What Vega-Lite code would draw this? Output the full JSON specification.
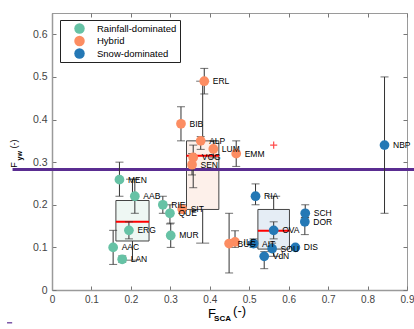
{
  "$schema": "https://vega.github.io/schema/vega-lite/v6.json",
  "width": 355,
  "height": 277,
  "autosize": {"type": "none"},
  "padding": {"left": 52, "top": 13, "right": 7, "bottom": 39},
  "config": {
    "font": "Liberation Sans",
    "view": {"stroke": "#9a9a9a", "strokeWidth": 1},
    "axis": {"grid": false}
  },
  "datasets": {
    "pts": [
      {"id": "MEN", "group": "Rainfall-dominated", "fsca": 0.171, "fyw": 0.259, "lo": 0.22, "hi": 0.30},
      {"id": "AAB", "group": "Rainfall-dominated", "fsca": 0.21, "fyw": 0.22, "lo": 0.18, "hi": 0.26},
      {"id": "ERG", "group": "Rainfall-dominated", "fsca": 0.195, "fyw": 0.14, "lo": 0.12, "hi": 0.16},
      {"id": "AAC", "group": "Rainfall-dominated", "fsca": 0.155, "fyw": 0.10, "lo": 0.06, "hi": 0.14},
      {"id": "LAN", "group": "Rainfall-dominated", "fsca": 0.178, "fyw": 0.072, "lo": 0.065, "hi": 0.08},
      {"id": "RIE", "group": "Rainfall-dominated", "fsca": 0.281, "fyw": 0.20, "lo": 0.18, "hi": 0.22},
      {"id": "QUE", "group": "Rainfall-dominated", "fsca": 0.299, "fyw": 0.18, "lo": 0.155, "hi": 0.20},
      {"id": "MUR", "group": "Rainfall-dominated", "fsca": 0.301, "fyw": 0.128, "lo": 0.10, "hi": 0.157},
      {"id": "ERL", "group": "Hybrid", "fsca": 0.386, "fyw": 0.49, "lo": 0.46, "hi": 0.52},
      {"id": "BIB", "group": "Hybrid", "fsca": 0.327, "fyw": 0.39, "lo": 0.35, "hi": 0.43},
      {"id": "ALP", "group": "Hybrid", "fsca": 0.377, "fyw": 0.35, "lo": 0.33, "hi": 0.36},
      {"id": "LUM", "group": "Hybrid", "fsca": 0.409, "fyw": 0.331, "lo": 0.31, "hi": 0.35},
      {"id": "VOG", "group": "Hybrid", "fsca": 0.358, "fyw": 0.311, "lo": 0.24, "hi": 0.34},
      {"id": "SEN", "group": "Hybrid", "fsca": 0.355, "fyw": 0.294, "lo": 0.27, "hi": 0.32},
      {"id": "EMM", "group": "Hybrid", "fsca": 0.467, "fyw": 0.32, "lo": 0.29, "hi": 0.35},
      {"id": "SIT", "group": "Hybrid", "fsca": 0.33, "fyw": 0.19, "lo": 0.18, "hi": 0.20},
      {"id": "ILE", "group": "Hybrid", "fsca": 0.464, "fyw": 0.113, "lo": 0.10, "hi": 0.139},
      {"id": "BUC", "group": "Hybrid", "fsca": 0.449, "fyw": 0.109, "lo": 0.04, "hi": 0.18},
      {"id": "NBP", "group": "Snow-dominated", "fsca": 0.843, "fyw": 0.34, "lo": 0.18, "hi": 0.50},
      {"id": "RIA", "group": "Snow-dominated", "fsca": 0.516, "fyw": 0.22, "lo": 0.20, "hi": 0.249},
      {"id": "SCH", "group": "Snow-dominated", "fsca": 0.642, "fyw": 0.18, "lo": 0.17, "hi": 0.20},
      {"id": "DOR", "group": "Snow-dominated", "fsca": 0.641, "fyw": 0.16, "lo": 0.13, "hi": 0.17},
      {"id": "OVA", "group": "Snow-dominated", "fsca": 0.562, "fyw": 0.14, "lo": 0.12, "hi": 0.16},
      {"id": "DIS", "group": "Snow-dominated", "fsca": 0.617, "fyw": 0.10, "lo": 0.10, "hi": 0.10},
      {"id": "SOU", "group": "Snow-dominated", "fsca": 0.558, "fyw": 0.097, "lo": 0.09, "hi": 0.11},
      {"id": "AIT", "group": "Snow-dominated", "fsca": 0.511, "fyw": 0.109, "lo": 0.10, "hi": 0.12},
      {"id": "VdN", "group": "Snow-dominated", "fsca": 0.538, "fyw": 0.079, "lo": 0.05, "hi": 0.09}
    ],
    "boxes": [
      {"group": "Rainfall-dominated", "x1": 0.162, "x2": 0.246, "q1": 0.115, "q3": 0.21, "med": 0.16, "xc": 0.204, "wlo": 0.07, "whi": 0.26},
      {"group": "Hybrid", "x1": 0.341, "x2": 0.423, "q1": 0.189, "q3": 0.35, "med": 0.315, "xc": 0.382, "wlo": 0.11, "whi": 0.49},
      {"group": "Snow-dominated", "x1": 0.522, "x2": 0.602, "q1": 0.096, "q3": 0.189, "med": 0.139, "xc": 0.562, "wlo": 0.079, "whi": 0.22}
    ],
    "outliers": [
      {"group": "Snow-dominated", "xc": 0.562, "out": 0.34}
    ],
    "threshold": [
      {"x": -0.1, "x2": 0.93, "y": 0.283}
    ],
    "dash": [
      {"x": -0.114, "x2": -0.101, "y": -0.077}
    ],
    "titles": [
      {"axis": "x", "part": "big", "t": "F", "x": 0.3955, "y": -0.0654},
      {"axis": "x", "part": "sub", "t": "SCA", "x": 0.411, "y": -0.0724},
      {"axis": "x", "part": "big", "t": "(-)", "x": 0.459, "y": -0.059},
      {"axis": "y", "part": "big", "t": "F", "x": -0.0887, "y": 0.287},
      {"axis": "y", "part": "sub", "t": "yw", "x": -0.076, "y": 0.304},
      {"axis": "y", "part": "big", "t": "(-)", "x": -0.0887, "y": 0.332}
    ]
  },
  "resolve": {"axis": {"x": "independent", "y": "independent"}},
  "layer": [
    {
      "data": {"name": "boxes"},
      "mark": {"type": "rule", "color": "#333333", "strokeWidth": 1},
      "encoding": {
        "x": {"field": "xc", "type": "quantitative", "scale": {"domain": [0, 0.9], "nice": false, "zero": false}, "axis": null},
        "y": {"field": "wlo", "type": "quantitative", "scale": {"domain": [0, 0.65], "nice": false, "zero": false}, "axis": null},
        "y2": {"field": "whi"}
      }
    },
    {
      "data": {"name": "boxes"},
      "transform": [{"fold": ["wlo", "whi"], "as": ["end", "wv"]}],
      "mark": {"type": "tick", "orient": "horizontal", "color": "#333333", "size": 13, "thickness": 1},
      "encoding": {
        "x": {"field": "xc", "type": "quantitative", "axis": null},
        "y": {"field": "wv", "type": "quantitative", "axis": null}
      }
    },
    {
      "data": {"name": "boxes"},
      "mark": {"type": "rect", "stroke": "#444444", "strokeWidth": 1, "opacity": 1},
      "encoding": {
        "x": {
          "field": "x1", "type": "quantitative",
          "axis": {"orient": "bottom", "values": [0, 0.1, 0.2, 0.3, 0.4, 0.5, 0.6, 0.7, 0.8, 0.9], "format": "~g", "title": null, "domainColor": "#9a9a9a", "domainWidth": 1.5, "tickColor": "#777777", "tickSize": -4, "labelPadding": 8, "labelFontSize": 10, "labelColor": "#444444", "labelFlush": false}
        },
        "x2": {"field": "x2"},
        "y": {
          "field": "q1", "type": "quantitative",
          "axis": {"orient": "left", "values": [0, 0.1, 0.2, 0.3, 0.4, 0.5, 0.6], "format": "~g", "title": null, "domainColor": "#9a9a9a", "domainWidth": 1.5, "tickColor": "#777777", "tickSize": -4, "labelPadding": 9, "labelFontSize": 10.5, "labelColor": "#444444", "labelFlush": false}
        },
        "y2": {"field": "q3"},
        "fill": {
          "condition": [
            {"test": "datum.group === 'Rainfall-dominated'", "value": "#eef7f3"},
            {"test": "datum.group === 'Hybrid'", "value": "#fdf0ea"}
          ],
          "value": "#e5edf5"
        }
      }
    },
    {
      "data": {"name": "boxes"},
      "mark": {"type": "rule", "color": "#ff0000", "strokeWidth": 2},
      "encoding": {
        "x": {
          "field": "x1", "type": "quantitative",
          "axis": {"orient": "top", "values": [0, 0.1, 0.2, 0.3, 0.4, 0.5, 0.6, 0.7, 0.8, 0.9], "labels": false, "domain": false, "title": null, "tickColor": "#777777", "tickSize": -4}
        },
        "x2": {"field": "x2"},
        "y": {
          "field": "med", "type": "quantitative",
          "axis": {"orient": "right", "values": [0, 0.1, 0.2, 0.3, 0.4, 0.5, 0.6], "labels": false, "domain": false, "title": null, "tickColor": "#777777", "tickSize": -4}
        }
      }
    },
    {
      "data": {"name": "threshold"},
      "mark": {"type": "rule", "color": "#5a2d91", "strokeWidth": 3, "clip": false},
      "encoding": {
        "x": {"field": "x", "type": "quantitative", "axis": null},
        "x2": {"field": "x2"},
        "y": {"field": "y", "type": "quantitative", "axis": null}
      }
    },
    {
      "data": {"name": "dash"},
      "mark": {"type": "rule", "color": "#5a2d91", "strokeWidth": 1.2, "clip": false},
      "encoding": {
        "x": {"field": "x", "type": "quantitative", "axis": null},
        "x2": {"field": "x2"},
        "y": {"field": "y", "type": "quantitative", "axis": null}
      }
    },
    {
      "data": {"name": "pts"},
      "mark": {"type": "rule", "color": "#333333", "strokeWidth": 1},
      "encoding": {
        "x": {"field": "fsca", "type": "quantitative", "axis": null},
        "y": {"field": "lo", "type": "quantitative", "axis": null},
        "y2": {"field": "hi"}
      }
    },
    {
      "data": {"name": "pts"},
      "transform": [{"fold": ["lo", "hi"], "as": ["end", "ev"]}],
      "mark": {"type": "tick", "orient": "horizontal", "color": "#333333", "size": 8, "thickness": 1},
      "encoding": {
        "x": {"field": "fsca", "type": "quantitative", "axis": null},
        "y": {"field": "ev", "type": "quantitative", "axis": null}
      }
    },
    {
      "data": {"name": "pts"},
      "mark": {"type": "circle", "size": 95, "opacity": 1},
      "encoding": {
        "x": {"field": "fsca", "type": "quantitative", "axis": null},
        "y": {"field": "fyw", "type": "quantitative", "axis": null},
        "fill": {
          "field": "group", "type": "nominal",
          "scale": {"domain": ["Rainfall-dominated", "Hybrid", "Snow-dominated"], "range": ["#66c2a5", "#fc8d62", "#2478b5"]},
          "legend": {
            "title": null, "orient": "none", "legendX": 8, "legendY": 7,
            "strokeColor": "#222222", "fillColor": "white", "padding": 3,
            "symbolType": "circle", "symbolSize": 110, "symbolOffset": 11, "symbolStrokeWidth": 0,
            "labelFontSize": 9.5, "labelColor": "black", "labelOffset": 12, "rowPadding": 1.5, "labelLimit": 300
          }
        }
      }
    },
    {
      "data": {"name": "pts"},
      "mark": {"type": "text", "align": "left", "baseline": "middle", "dx": 8.5, "fontSize": 8.5, "color": "black", "clip": false},
      "encoding": {
        "x": {"field": "fsca", "type": "quantitative", "axis": null},
        "y": {"field": "fyw", "type": "quantitative", "axis": null},
        "text": {"field": "id"}
      }
    },
    {
      "data": {"name": "outliers"},
      "mark": {"type": "point", "shape": "M-1,0L1,0M0,-1L0,1", "size": 50, "color": "#ff0000", "strokeWidth": 1.2, "filled": false},
      "encoding": {
        "x": {"field": "xc", "type": "quantitative", "axis": null},
        "y": {"field": "out", "type": "quantitative", "axis": null}
      }
    },
    {
      "data": {"name": "titles"},
      "transform": [{"filter": "datum.axis == 'x' && datum.part == 'big'"}],
      "mark": {"type": "text", "align": "left", "baseline": "alphabetic", "fontSize": 13, "color": "black"},
      "encoding": {
        "x": {"field": "x", "type": "quantitative", "axis": null},
        "y": {"field": "y", "type": "quantitative", "axis": null},
        "text": {"field": "t"}
      }
    },
    {
      "data": {"name": "titles"},
      "transform": [{"filter": "datum.axis == 'x' && datum.part == 'sub'"}],
      "mark": {"type": "text", "align": "left", "baseline": "alphabetic", "fontSize": 8, "fontWeight": "bold", "color": "black"},
      "encoding": {
        "x": {"field": "x", "type": "quantitative", "axis": null},
        "y": {"field": "y", "type": "quantitative", "axis": null},
        "text": {"field": "t"}
      }
    },
    {
      "data": {"name": "titles"},
      "transform": [{"filter": "datum.axis == 'y' && datum.part == 'big'"}],
      "mark": {"type": "text", "align": "left", "baseline": "alphabetic", "angle": 270, "fontSize": 9, "color": "black"},
      "encoding": {
        "x": {"field": "x", "type": "quantitative", "axis": null},
        "y": {"field": "y", "type": "quantitative", "axis": null},
        "text": {"field": "t"}
      }
    },
    {
      "data": {"name": "titles"},
      "transform": [{"filter": "datum.axis == 'y' && datum.part == 'sub'"}],
      "mark": {"type": "text", "align": "left", "baseline": "alphabetic", "angle": 270, "fontSize": 7, "fontWeight": "bold", "color": "black"},
      "encoding": {
        "x": {"field": "x", "type": "quantitative", "axis": null},
        "y": {"field": "y", "type": "quantitative", "axis": null},
        "text": {"field": "t"}
      }
    }
  ]
}
